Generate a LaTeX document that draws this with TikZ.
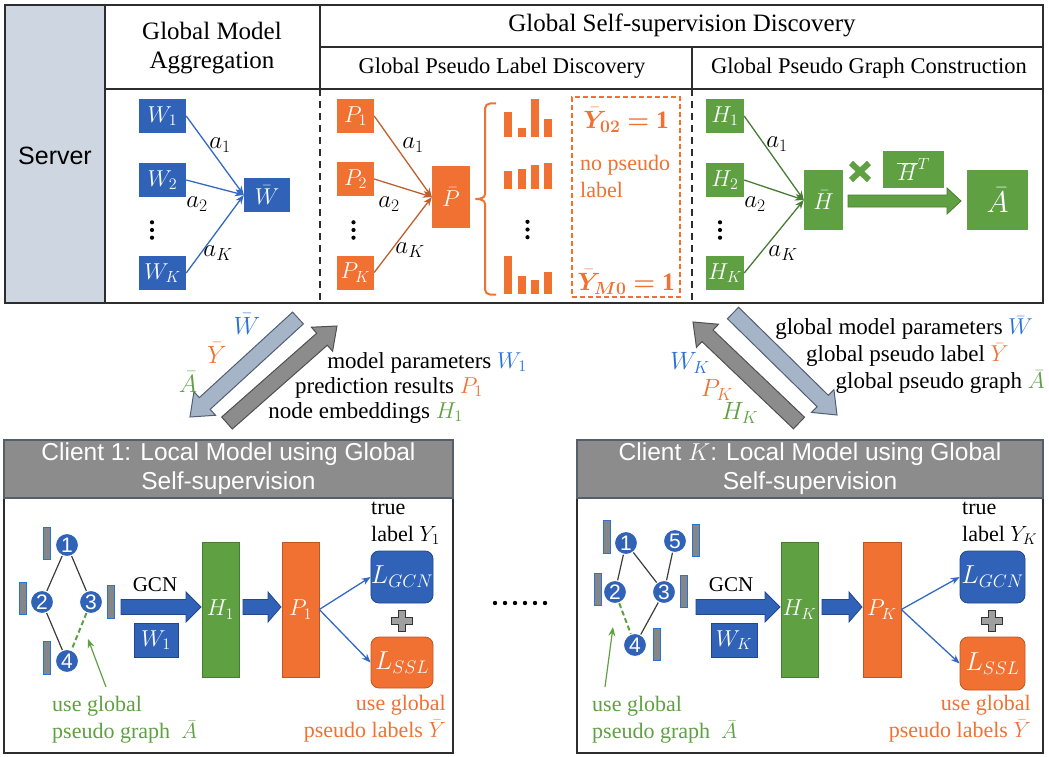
\RequirePackage{fix-cm}
\documentclass[tikz,border=0pt]{standalone}
\usepackage{fontspec}
\setmainfont{Liberation Serif}
\setsansfont{Liberation Sans}
\usepackage{bm}
\usetikzlibrary{calc,arrows.meta}
\definecolor{cblue}{RGB}{48,98,184}
\definecolor{cbluet}{RGB}{40,115,215}
\definecolor{cblueline}{RGB}{50,105,195}
\definecolor{cbluedk}{RGB}{35,70,140}
\definecolor{corange}{RGB}{240,113,50}
\definecolor{corangedk}{RGB}{190,85,35}
\definecolor{cgreen}{RGB}{94,160,66}
\definecolor{cgreendk}{RGB}{70,125,50}
\definecolor{cbrown}{RGB}{190,95,45}
\definecolor{cserver}{RGB}{206,214,225}
\definecolor{chead}{RGB}{140,140,140}
\definecolor{cheaddk}{RGB}{85,95,105}
\definecolor{clight}{RGB}{166,180,200}
\definecolor{clightdk}{RGB}{80,95,115}
\definecolor{cdark}{RGB}{140,140,140}
\definecolor{cdarkdk}{RGB}{80,80,80}
\definecolor{cframe}{RGB}{45,45,45}
\definecolor{cedge}{RGB}{60,60,60}
\newcommand{\fatarrow}[6]{%
  \path ($(#2)!#5!(#1)$) coordinate (fahd);
  \draw[#6] ($(#1)!#3!90:(#2)$) -- ($(fahd)!#3!-90:(#1)$) -- ($(fahd)!#4!-90:(#1)$) -- (#2) -- ($(fahd)!#4!90:(#1)$) -- ($(fahd)!#3!90:(#1)$) -- ($(#1)!#3!-90:(#2)$) -- cycle;}
\newcommand{\plussign}[1]{%
  \draw[fill=gray!75, draw=gray!40!black, line width=0.8pt] ($(#1)+(-3.5,-10.5)$) -- ($(#1)+(3.5,-10.5)$) -- ($(#1)+(3.5,-3.5)$) -- ($(#1)+(10.5,-3.5)$) -- ($(#1)+(10.5,3.5)$) -- ($(#1)+(3.5,3.5)$) -- ($(#1)+(3.5,10.5)$) -- ($(#1)+(-3.5,10.5)$) -- ($(#1)+(-3.5,3.5)$) -- ($(#1)+(-10.5,3.5)$) -- ($(#1)+(-10.5,-3.5)$) -- ($(#1)+(-3.5,-3.5)$) -- cycle;}
\newcommand{\vdotsat}[2]{%
  \fill[black] (#1,#2-7.7) circle (2.1pt) (#1,#2) circle (2.1pt) (#1,#2+7.7) circle (2.1pt);}
\newcommand{\bY}[1]{$\bar{\bm{Y}}_{\bm{#1}}\bm{=}\mathbf{1}$}
\tikzset{
  frame/.style={draw=cframe, line width=1.5pt},
  hd/.style={font=\fontsize{25}{29}\selectfont, inner sep=0pt},
  sh/.style={font=\fontsize{22.5}{27}\selectfont, inner sep=0pt},
  lab/.style={font=\fontsize{22}{27}\selectfont, inner sep=0pt},
  alab/.style={font=\fontsize{25}{28}\selectfont, inner sep=0pt},
  box/.style={fill=#1, text=white, inner sep=0pt, font=\fontsize{23}{26}\selectfont},
  wline/.style={cblueline, line width=1.3pt, -{Stealth[length=9pt,width=7pt]}},
  pline/.style={cbrown, line width=1.3pt, -{Stealth[length=9pt,width=7pt]}},
  hline/.style={cgreendk, line width=1.3pt, -{Stealth[length=9pt,width=7pt]}},
  gn/.style={circle, fill=cblue, draw=white, line width=1pt, minimum size=23pt, inner sep=0pt, text=white, font=\sffamily\fontsize{21}{21}\selectfont},
  fbar/.style={fill=gray!95, draw=cbluet, line width=0.8pt},
  gedge/.style={cedge, line width=1.2pt},
  pedge/.style={cgreen, line width=2pt, dash pattern=on 5pt off 3pt},
  garrow/.style={cgreen, line width=1.2pt, -{Stealth[length=9pt,width=7pt]}},
  lbox/.style={rounded corners=8pt, fill=#1, text=white, inner sep=0pt, font=\fontsize{26}{28}\selectfont},
  chd/.style={fill=chead, draw=cheaddk, line width=1.2pt, text=white, align=center, inner sep=0pt, font=\sffamily\fontsize{24.5}{29}\selectfont},
  bigarrow/.style={fill=cblue, draw=cbluedk, line width=0.8pt},
}
\begin{document}
\begin{tikzpicture}[x=1pt,y=-1pt]
\useasboundingbox (0,0) rectangle (1049,757);
% ---------------- server frame
\fill[cserver] (5,5) rectangle (105,303);
\draw[frame] (5,5) rectangle (1043,303);
\draw[frame] (105,5) -- (105,303);
\draw[frame] (105,89) -- (1043,89);
\draw[frame] (320,47) -- (1043,47);
\draw[frame] (320,5) -- (320,89);
\draw[frame] (692,47) -- (692,89);
\draw[frame, dash pattern=on 7pt off 5pt] (320,89) -- (320,303);
\draw[frame, dash pattern=on 7pt off 5pt] (692,89) -- (692,303);
\node[font=\sffamily\fontsize{25}{30}\selectfont, inner sep=0pt] (server) at (55,156) {Server};
\node[hd, align=center] (gma) at (212,48.5) {Global Model\\Aggregation};
\node[hd] (gssd) at (682,25) {Global Self-supervision Discovery};
\node[sh] (gpld) at (502,68) {Global Pseudo Label Discovery};
\node[sh] (gpgc) at (869,68) {Global Pseudo Graph Construction};
% ---------------- model aggregation
\node[box=cblue, minimum width=47pt, minimum height=34pt] (w1) at (162.5,116) {$W_1$};
\node[box=cblue, minimum width=47pt, minimum height=34pt] (w2) at (162.5,180) {$W_2$};
\node[box=cblue, minimum width=47pt, minimum height=34pt] (wk) at (162.5,273) {$W_K$};
\vdotsat{152}{230}
\node[box=cblue, minimum width=46pt, minimum height=34pt] (wbar) at (267,195) {$\bar{W}$};
\draw[wline] (w1.east) -- (wbar.west);
\draw[wline] (w2.east) -- (wbar.west);
\draw[wline] (wk.east) -- (wbar.west);
\node[alab] (wa1) at (220,145) {$a_1$};
\node[alab] (wa2) at (197,204) {$a_2$};
\node[alab] (wak) at (218,253) {$a_K$};
% ---------------- pseudo label discovery
\node[box=corange, minimum width=37pt, minimum height=34pt] (p1) at (355.5,116) {$P_1$};
\node[box=corange, minimum width=37pt, minimum height=34pt] (p2) at (355.5,179) {$P_2$};
\node[box=corange, minimum width=37pt, minimum height=34pt] (pk) at (355.5,272.5) {$P_K$};
\vdotsat{353.5}{230}
\node[box=corange, minimum width=38pt, minimum height=62pt] (pbar) at (451,197) {$\bar{P}$};
\draw[pline] (p1.east) -- (pbar.west);
\draw[pline] (p2.east) -- (pbar.west);
\draw[pline] (pk.east) -- (pbar.west);
\node[alab] (pa1) at (413,145) {$a_1$};
\node[alab] (pa2) at (389,204) {$a_2$};
\node[alab] (pak) at (410,250) {$a_K$};
\draw[corange, line width=2pt, line join=round] (496,103.5) -- (490,103.5) to[out=180,in=90] (485,108.5) -- (485,194) to[out=-90,in=0] (476,199) to[out=0,in=90] (485,204) -- (485,289.5) to[out=-90,in=180] (490,294.5) -- (496,294.5);
\foreach \x/\tp in {504.3/111.7, 517.7/127.7, 531/99.3, 544.3/119.3}
  \fill[corange] (\x,\tp) rectangle (\x+8,137.3);
\foreach \x/\tp in {504.3/171, 517.7/169.3, 531/165.3, 544.3/163}
  \fill[corange] (\x,\tp) rectangle (\x+8,189.3);
\foreach \x/\tp in {504.3/255.7, 517.7/276, 531/280.3, 544.3/272}
  \fill[corange] (\x,\tp) rectangle (\x+8,294);
\vdotsat{527.5}{229.5}
\node[draw=corange, line width=1.5pt, dash pattern=on 5pt off 3pt, minimum width=108pt, minimum height=200pt, inner sep=0pt] (ybox) at (626,197) {};
\node[alab, text=corange] (y02) at (626,120) {\bY{02}};
\node[lab, text=corange, align=left, anchor=west] (nopl) at (580,176) {no pseudo\\label};
\node[alab, text=corange] (ym0) at (626,282) {\bY{M0}};
% ---------------- pseudo graph construction
\node[box=cgreen, minimum width=38pt, minimum height=34pt] (h1) at (725,116) {$H_1$};
\node[box=cgreen, minimum width=38pt, minimum height=34pt] (h2) at (725,180) {$H_2$};
\node[box=cgreen, minimum width=38pt, minimum height=34pt] (hk) at (725,273) {$H_K$};
\vdotsat{720}{230}
\node[box=cgreen, minimum width=39pt, minimum height=60pt] (hbar) at (823.5,200) {$\bar{H}$};
\draw[hline] (h1.east) -- (hbar.west);
\draw[hline] (h2.east) -- (hbar.west);
\draw[hline] (hk.east) -- (hbar.west);
\node[alab] (ha1) at (777,144) {$a_1$};
\node[alab] (ha2) at (755,204) {$a_2$};
\node[alab] (hak) at (783,253) {$a_K$};
\draw[cgreen, line width=6pt] (851,163) -- (869,180) (851,180) -- (869,163);
\node[box=cgreen, minimum width=61pt, minimum height=37pt] (hbt) at (913.5,169.5) {$\overline{H}^T$};
\node[box=cgreen, minimum width=61pt, minimum height=60pt, font=\fontsize{30}{32}\selectfont] (abar) at (997.5,200) {$\bar{A}$};
\coordinate (ga1) at (848,201);
\coordinate (ga2) at (961,201);
\fatarrow{ga1}{ga2}{6pt}{13pt}{14pt}{fill=cgreen, draw=cgreendk, line width=0.8pt}
% ---------------- middle communication arrows
\coordinate (la1) at (298,318); \coordinate (la2) at (190,417);
\fatarrow{la1}{la2}{8pt}{16pt}{20pt}{fill=clight, draw=clightdk, line width=1pt}
\coordinate (da1) at (227,423); \coordinate (da2) at (337,326);
\fatarrow{da1}{da2}{8pt}{16pt}{20pt}{fill=cdark, draw=cdarkdk, line width=1pt}
\coordinate (rd1) at (799,423); \coordinate (rd2) at (693,322);
\fatarrow{rd1}{rd2}{8pt}{16pt}{20pt}{fill=cdark, draw=cdarkdk, line width=1pt}
\coordinate (rl1) at (733,313); \coordinate (rl2) at (837,415);
\fatarrow{rl1}{rl2}{8pt}{16pt}{20pt}{fill=clight, draw=clightdk, line width=1pt}
\node[alab, text=cbluet] (lw) at (247,324) {$\bar{W}$};
\node[alab, text=corange] (ly) at (217,353) {$\bar{Y}$};
\node[alab, text=cgreen] (la) at (188,382) {$\bar{A}$};
\node[lab, font=\fontsize{23}{27}\selectfont, anchor=east] (t1) at (527,363) {model parameters \textcolor{cbluet}{$W_1$}};
\node[lab, font=\fontsize{23}{27}\selectfont, anchor=east] (t2) at (483,388) {prediction results \textcolor{corange}{$P_1$}};
\node[lab, font=\fontsize{23}{27}\selectfont, anchor=east] (t3) at (463,413) {node embeddings \textcolor{cgreen}{$H_1$}};
\node[lab, font=\fontsize{23}{27}\selectfont, anchor=east] (t4) at (1033,328) {global model parameters \textcolor{cbluet}{$\bar{W}$}};
\node[lab, font=\fontsize{23}{27}\selectfont, anchor=east] (t5) at (1009,355) {global pseudo label \textcolor{corange}{$\bar{Y}$}};
\node[lab, font=\fontsize{23}{27}\selectfont, anchor=east] (t6) at (1045,382) {global pseudo graph \textcolor{cgreen}{$\bar{A}$}};
\node[alab, text=cbluet] (rw) at (690,363) {$W_K$};
\node[alab, text=corange] (rp) at (717,390) {$P_K$};
\node[alab, text=cgreen] (rh) at (740,413) {$H_K$};
% ---------------- client 1
\node[draw=cframe, line width=1.5pt, minimum width=449pt, minimum height=255pt, inner sep=0pt] (c1b) at (228.5,625.5) {};
\node[chd, minimum width=449pt, minimum height=58pt] (c1h) at (228.5,469) {Client 1: Local Model using Global\\Self-supervision};
\fill[fbar] (43,527) rectangle (50.5,559);
\fill[fbar] (19,582) rectangle (26.5,614);
\fill[fbar] (107,585) rectangle (114.5,618);
\fill[fbar] (43,641) rectangle (50.5,674);
\node[gn] (a1) at (67,545) {1};
\node[gn] (a2) at (42,602) {2};
\node[gn] (a3) at (91,602) {3};
\node[gn] (a4) at (67,661) {4};
\draw[gedge] (a1) -- (a2);
\draw[gedge] (a1) -- (a3);
\draw[gedge] (a2) -- (a4);
\draw[pedge] (a3) -- (a4);
\coordinate (c1g1) at (106,687); \coordinate (c1g2) at (88,639);
\draw[garrow] (c1g1) -- (c1g2);
\node[lab, text=cgreen, align=left, anchor=west] (c1ug) at (52,720) {use global\\pseudo graph~~$\bar{A}$};
\node[lab, font=\fontsize{21}{24}\selectfont] (c1gcn) at (155,585) {GCN};
\node[box=cblue, minimum width=44pt, minimum height=34pt, draw=cbluedk, line width=0.6pt] (c1w) at (156,640) {$W_1$};
\node[box=cgreen, minimum width=37pt, minimum height=135pt, draw=cgreendk, line width=0.6pt] (c1h1) at (220.5,609.5) {$H_1$};
\node[box=corange, minimum width=37pt, minimum height=135pt, draw=corangedk, line width=0.6pt] (c1p1) at (300.5,609.5) {$P_1$};
\coordinate (c1f1) at (121,607); \coordinate (c1f2) at (201,607);
\fatarrow{c1f1}{c1f2}{7.5pt}{15pt}{15pt}{bigarrow}
\coordinate (c1f3) at (243,607); \coordinate (c1f4) at (281,607);
\fatarrow{c1f3}{c1f4}{7.5pt}{15pt}{13pt}{bigarrow}
\node[lbox=cblue, draw=cbluedk, line width=0.8pt, minimum width=62pt, minimum height=52pt] (c1lg) at (402,577) {$L_{GCN}$};
\node[lbox=corange, draw=corangedk, line width=0.8pt, minimum width=62pt, minimum height=51pt] (c1ls) at (402,662.5) {$L_{SSL}$};
\draw[wline] (c1p1.east) -- (c1lg.west);
\draw[wline] (c1p1.east) -- (c1ls.west);
\coordinate (c1plus) at (402,621);
\plussign{c1plus}
\node[lab, align=left, anchor=west] (c1true) at (371,523) {true\\label $Y_1$};
\node[lab, text=corange, align=right, anchor=east] (c1ul) at (446,719) {use global\\pseudo labels $\bar{Y}$};
\foreach \i in {0,...,5} \fill[black] (495+\i*10,603) circle (2.2pt);
% ---------------- client K
\node[draw=cframe, line width=1.5pt, minimum width=466pt, minimum height=255pt, inner sep=0pt] (ckb) at (810,625.5) {};
\node[chd, minimum width=466pt, minimum height=58pt] (ckh) at (810,469) {Client $K$: Local Model using Global\\Self-supervision};
\fill[fbar] (603,520) rectangle (610.5,553);
\fill[fbar] (692,524) rectangle (699.5,556);
\fill[fbar] (594,573) rectangle (601.5,605);
\fill[fbar] (680,575) rectangle (687.5,607);
\fill[fbar] (653,628) rectangle (660.5,660);
\node[gn] (b1) at (626,543) {1};
\node[gn] (b5) at (675,541) {5};
\node[gn] (b2) at (615,592) {2};
\node[gn] (b3) at (664,592) {3};
\node[gn] (b4) at (635,645) {4};
\draw[gedge] (b1) -- (b2);
\draw[gedge] (b1) -- (b3);
\draw[gedge] (b5) -- (b3);
\draw[gedge] (b3) -- (b4);
\draw[pedge] (b2) -- (b4);
\coordinate (ckg1) at (605,687); \coordinate (ckg2) at (613,627);
\draw[garrow] (ckg1) -- (ckg2);
\node[lab, text=cgreen, align=left, anchor=west] (ckug) at (592,720) {use global\\pseudo graph~~$\bar{A}$};
\node[lab, font=\fontsize{21}{24}\selectfont] (ckgcn) at (731,585) {GCN};
\node[box=cblue, minimum width=46pt, minimum height=34pt, draw=cbluedk, line width=0.6pt] (ckw) at (734,640) {$W_K$};
\node[box=cgreen, minimum width=37pt, minimum height=135pt, draw=cgreendk, line width=0.6pt] (ckhk) at (799.5,609.5) {$H_K$};
\node[box=corange, minimum width=38pt, minimum height=135pt, draw=corangedk, line width=0.6pt] (ckpk) at (882,609.5) {$P_K$};
\coordinate (ckf1) at (696,607); \coordinate (ckf2) at (780,607);
\fatarrow{ckf1}{ckf2}{7.5pt}{15pt}{15pt}{bigarrow}
\coordinate (ckf3) at (822,607); \coordinate (ckf4) at (862,607);
\fatarrow{ckf3}{ckf4}{7.5pt}{15pt}{13pt}{bigarrow}
\node[lbox=cblue, draw=cbluedk, line width=0.8pt, minimum width=65pt, minimum height=52pt] (cklg) at (992.5,577) {$L_{GCN}$};
\node[lbox=corange, draw=corangedk, line width=0.8pt, minimum width=65pt, minimum height=53pt] (ckls) at (992.5,663.5) {$L_{SSL}$};
\draw[wline] (ckpk.east) -- (cklg.west);
\draw[wline] (ckpk.east) -- (ckls.west);
\coordinate (ckplus) at (992,621);
\plussign{ckplus}
\node[lab, align=left, anchor=west] (cktrue) at (962,523) {true\\label $Y_K$};
\node[lab, text=corange, align=right, anchor=east] (ckul) at (1031,719) {use global\\pseudo labels $\bar{Y}$};
\end{tikzpicture}
\end{document}
